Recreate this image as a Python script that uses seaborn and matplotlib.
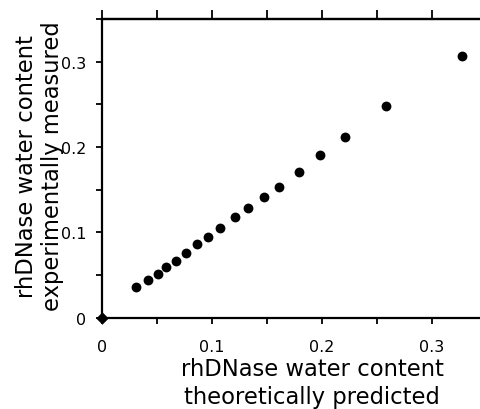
import numpy as np
import pandas as pd
import matplotlib
matplotlib.use("Agg")
import matplotlib.pyplot as plt
import seaborn as sns
from matplotlib.ticker import MultipleLocator, FixedLocator, NullFormatter

# ===================== 数据 =====================
predicted = [0.031, 0.042, 0.051, 0.058, 0.067, 0.076, 0.086, 0.096, 0.107,
             0.121, 0.133, 0.147, 0.161, 0.179, 0.198, 0.221, 0.258, 0.327]
measured = [0.036, 0.044, 0.051, 0.059, 0.066, 0.076, 0.086, 0.095, 0.105,
            0.118, 0.128, 0.141, 0.153, 0.171, 0.191, 0.212, 0.248, 0.307]
origin_x = [0.0]
origin_y = [0.0]

x_ticks = [0, 0.1, 0.2, 0.3]
x_tick_labels = ["0", "0.1", "0.2", "0.3"]
y_ticks = [0, 0.1, 0.2, 0.3]
y_tick_labels = ["0", "0.1", "0.2", "0.3"]

x_label = "rhDNase water content\ntheoretically predicted"
y_label = "rhDNase water content\nexperimentally measured"

df = pd.DataFrame({"pred": predicted, "meas": measured})
df0 = pd.DataFrame({"pred": origin_x, "meas": origin_y})

# ===================== 样式 =====================
sns.set_style("ticks")
plt.rcParams['font.family'] = ['DejaVu Sans']

fig = plt.figure(figsize=(4.8, 4.1), dpi=100)
ax = fig.add_axes([102 / 480, 91.3 / 410, 378 / 480, 298.7 / 410])

sns.scatterplot(data=df, x="pred", y="meas", ax=ax, color="black",
                s=50, edgecolor="black", linewidth=0)
sns.scatterplot(data=df0, x="pred", y="meas", ax=ax, color="black",
                marker="D", s=40, edgecolor="black", linewidth=0, clip_on=False, zorder=5)

ax.set_xlim(0, 0.3436)
ax.set_ylim(0, 0.35)

ax.set_xticks(x_ticks)
ax.set_xticklabels(x_tick_labels)
ax.set_yticks(y_ticks)
ax.set_yticklabels(y_tick_labels)
ax.xaxis.set_minor_locator(MultipleLocator(0.05))
ax.yaxis.set_minor_locator(MultipleLocator(0.05))

ax.tick_params(axis="both", which="both", direction="out", length=4.5, width=1.3,
               color="black", labelsize=11.5, labelcolor="black")
ax.tick_params(axis="x", which="major", pad=11)
ax.tick_params(axis="y", which="major", pad=7)

for side in ["left", "bottom", "top"]:
    ax.spines[side].set_linewidth(1.6)
    ax.spines[side].set_color("black")
ax.spines["right"].set_visible(False)

# 顶部刻度（向上，较长）
top = ax.secondary_xaxis("top")
top.xaxis.set_major_locator(FixedLocator(list(np.arange(0, 0.35, 0.05))))
top.xaxis.set_major_formatter(NullFormatter())
top.tick_params(direction="out", length=6.5, width=1.3, color="black")
top.spines["top"].set_linewidth(1.6)

ax.set_xlabel(x_label, fontsize=16.3, linespacing=1.3, va="center", ha="center", color="black")
ax.xaxis.set_label_coords(0.556, -0.217)
ax.set_ylabel(y_label, fontsize=16.3, linespacing=1.15, va="center", ha="center", color="black")
ax.yaxis.set_label_coords(-0.165, 0.51)

plt.savefig("out.png", dpi=100)
plt.close()
